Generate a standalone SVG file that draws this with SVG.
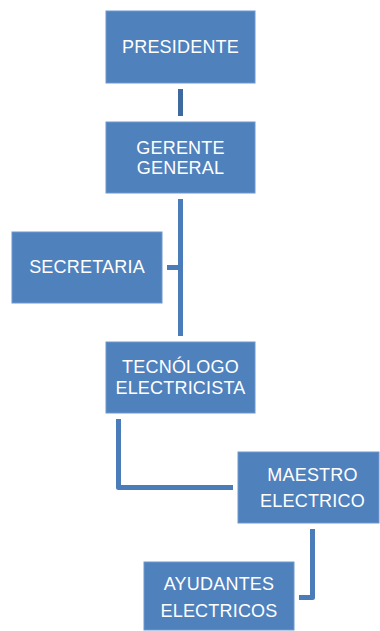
<svg xmlns="http://www.w3.org/2000/svg" width="380" height="631" viewBox="0 0 380 631">
<style>
.box{fill:#4F81BD;stroke:#6E97CC;stroke-width:1}
.t{font-family:"Liberation Sans",Arial,sans-serif;font-size:18px;fill:#FFFFFF;text-anchor:middle;letter-spacing:0.2px}
.c{fill:none;stroke:#4A7CB9;stroke-width:5;stroke-linejoin:round}
</style>
<rect width="380" height="631" fill="#FFFFFF"/>
<g id="connectors">
<line class="c" x1="180.5" y1="89" x2="180.5" y2="116" style="stroke:#3E6A9F"/>
<line class="c" x1="180.5" y1="199" x2="180.5" y2="336"/>
<line class="c" x1="167" y1="267.5" x2="180.5" y2="267.5"/>
<polyline class="c" points="118.5,419 118.5,487.5 233,487.5"/>
<polyline class="c" points="312.5,529 312.5,597.5 299,597.5"/>
</g>
<g id="presidente">
<rect class="box" x="106" y="11" width="149" height="72"/>
<text class="t" x="180.5" y="53">PRESIDENTE</text>
</g>
<g id="gerente">
<rect class="box" x="106" y="122" width="149" height="71"/>
<text class="t" x="180.5" y="154">GERENTE</text>
<text class="t" x="180.5" y="174">GENERAL</text>
</g>
<g id="secretaria">
<rect class="box" x="12" y="232" width="150" height="71"/>
<text class="t" x="87" y="273">SECRETARIA</text>
</g>
<g id="tecnologo">
<rect class="box" x="106" y="342" width="149" height="71"/>
<text class="t" x="180.5" y="373">TECNÓLOGO</text>
<text class="t" x="180.5" y="394">ELECTRICISTA</text>
</g>
<g id="maestro">
<rect class="box" x="238" y="452" width="141" height="71"/>
<text class="t" x="312.5" y="481">MAESTRO</text>
<text class="t" x="312.5" y="507">ELECTRICO</text>
</g>
<g id="ayudantes">
<rect class="box" x="144" y="562" width="150" height="68"/>
<text class="t" x="219" y="590">AYUDANTES</text>
<text class="t" x="219" y="617">ELECTRICOS</text>
</g>
</svg>
